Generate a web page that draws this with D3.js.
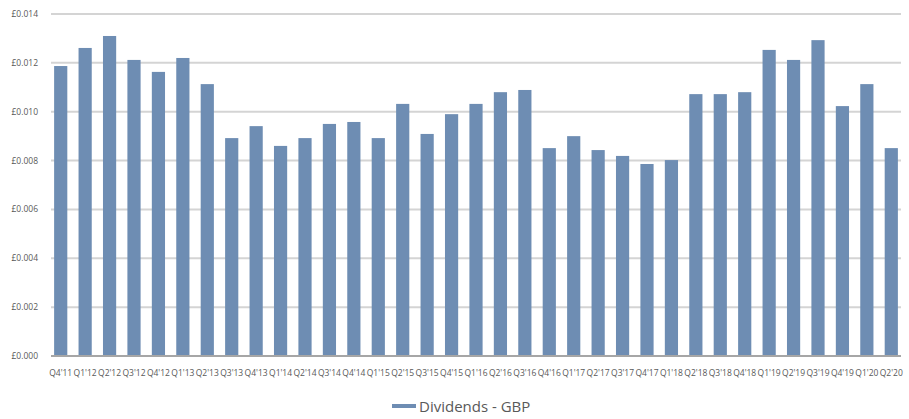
<!DOCTYPE html>
<html>
<head>
<meta charset="utf-8">
<script src="https://cdn.jsdelivr.net/npm/d3@7"></script>
<style>
  body { margin: 0; background: #fff; }
  text { font-family: "Open Sans", "Noto Sans", sans-serif; fill: #595959; }
</style>
</head>
<body>
<div id="chartdiv"></div>
<script>
var quarters = ["Q4'11","Q1'12","Q2'12","Q3'12","Q4'12","Q1'13","Q2'13","Q3'13","Q4'13",
  "Q1'14","Q2'14","Q3'14","Q4'14","Q1'15","Q2'15","Q3'15","Q4'15","Q1'16","Q2'16",
  "Q3'16","Q4'16","Q1'17","Q2'17","Q3'17","Q4'17","Q1'18","Q2'18","Q3'18","Q4'18",
  "Q1'19","Q2'19","Q3'19","Q4'19","Q1'20","Q2'20"];

var dividends = [0.01187, 0.01261, 0.0131, 0.01212, 0.01163, 0.0122, 0.01113, 0.00892, 0.00941,
  0.0086, 0.00892, 0.0095, 0.00958, 0.00892, 0.01032, 0.00909, 0.0099, 0.01032, 0.0108,
  0.01089, 0.00851, 0.009, 0.00843, 0.00819, 0.00786, 0.00802, 0.01072, 0.01072, 0.0108,
  0.01253, 0.01212, 0.01293, 0.01023, 0.01113, 0.00851];

var yTicks = [0, 0.002, 0.004, 0.006, 0.008, 0.010, 0.012, 0.014];
var seriesName = "Dividends - GBP";

var data = quarters.map((q, i) => ({ q: q, v: dividends[i] }));

var width = 909, height = 419;
var svg = d3.select("#chartdiv").append("svg")
  .attr("width", width)
  .attr("height", height);

var x = d3.scaleBand()
  .domain(quarters)
  .range([48.5, 903.5])
  .paddingInner(0.46)
  .paddingOuter(0.23);

var y = d3.scaleLinear()
  .domain([0, 0.014])
  .range([356, 14]);

// gridlines
svg.append("g").selectAll("line")
  .data(yTicks.filter(d => d > 0))
  .enter().append("line")
    .attr("x1", 51).attr("x2", 901)
    .attr("y1", d => y(d)).attr("y2", d => y(d))
    .attr("stroke", "#d4d4d4")
    .attr("stroke-width", 2);

// y labels
svg.append("g").selectAll("text")
  .data(yTicks)
  .enter().append("text")
    .attr("x", 38)
    .attr("y", d => y(d) + 3)
    .attr("text-anchor", "end")
    .attr("font-size", "8.5px")
    .text(d => "£" + d.toFixed(3));

// bars
svg.selectAll(".bar")
  .data(data)
  .enter().append("rect")
    .attr("class", "bar")
    .attr("x", d => x(d.q))
    .attr("width", x.bandwidth())
    .attr("y", d => y(d.v))
    .attr("height", d => y(0) - y(d.v))
    .style("fill", "#6e8db3");

// zero axis
svg.append("line")
  .attr("x1", 51).attr("x2", 901)
  .attr("y1", y(0)).attr("y2", y(0))
  .attr("stroke", "#a6a6a6")
  .attr("stroke-width", 2);

// x labels
svg.append("g").selectAll("text")
  .data(quarters)
  .enter().append("text")
    .attr("x", d => x(d) + x.bandwidth() / 2)
    .attr("y", 376)
    .attr("text-anchor", "middle")
    .attr("font-size", "8.5px")
    .text(d => d);

// legend
var legend = svg.append("g");
legend.append("line")
  .attr("x1", 392).attr("x2", 416)
  .attr("y1", 406).attr("y2", 406)
  .attr("stroke", "#6e8db3")
  .attr("stroke-width", 4);
legend.append("text")
  .attr("x", 419)
  .attr("y", 412)
  .attr("font-size", "15px")
  .text(seriesName);
</script>
</body>
</html>
